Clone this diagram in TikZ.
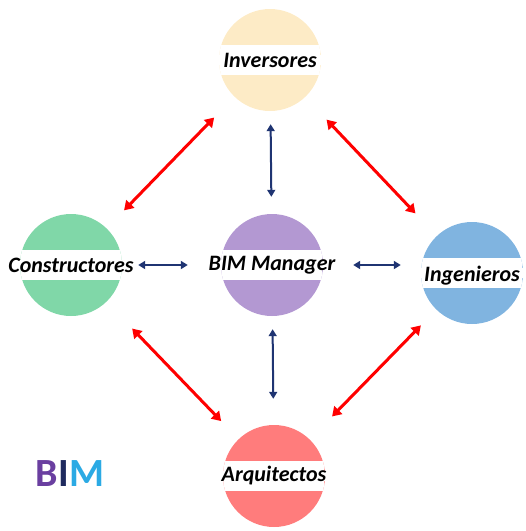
\documentclass[tikz,border=0pt]{standalone}
\usepackage{fontspec}
\setmainfont{Carlito}
\usetikzlibrary{arrows.meta}

\definecolor{invcol}{HTML}{FDEBC6}
\definecolor{concol}{HTML}{80D7A8}
\definecolor{bimcol}{HTML}{B398D2}
\definecolor{ingcol}{HTML}{80B4E0}
\definecolor{arqcol}{HTML}{FF7C7C}
\definecolor{navy}{HTML}{1F3472}
\definecolor{logoB}{HTML}{6A3FA0}
\definecolor{logoI}{HTML}{1F2A5E}
\definecolor{logoM}{HTML}{2BAAE4}

\begin{document}
\begin{tikzpicture}[
        x=1pt, y=-1pt,
        party/.style={circle, minimum size=102pt, inner sep=0pt,
          path picture={\fill[white]
            ([yshift=-15pt]path picture bounding box.west) rectangle
            ([yshift=15pt]path picture bounding box.east);}},
        tag/.style={font=\fontsize{22}{22}\selectfont\bfseries\itshape},
        link/.style={draw=red, line width=3pt,
          {Triangle[length=9pt,width=11pt]}-{Triangle[length=9pt,width=11pt]}},
        hub/.style={draw=navy, line width=2pt,
          {Triangle[length=7pt,width=8pt]}-{Triangle[length=7pt,width=8pt]}}
      ]
      \useasboundingbox (0,0) rectangle (526,531);

      % the five parties
      \node[party, fill=invcol] (inv) at (270,60) {};
      \node[party, fill=concol] (con) at (71,265) {};
      \node[party, fill=bimcol] (bim) at (272,265) {};
      \node[party, fill=ingcol] (ing) at (472,273) {};
      \node[party, fill=arqcol] (arq) at (274,476) {};

      \node[tag] (inv-t) at (inv) {Inversores};
      \node[tag] (con-t) at (con) {Constructores};
      \node[tag] (bim-t) at (bim) {BIM Manager};
      \node[tag] (ing-t) at ([yshift=-3pt]ing) {Ingenieros};
      \node[tag] (arq-t) at (arq) {Arquitectos};

      % outer ring
      \draw[link, shorten <=29pt, shorten >=25pt] (inv) -- (con);
      \draw[link, shorten <=31pt, shorten >=31pt] (inv) -- (ing);
      \draw[link, shorten <=37pt, shorten >=25pt] (con) -- (arq);
      \draw[link, shorten <=22pt, shorten >=32pt] (ing) -- (arq);

      % spokes from the manager
      \draw[hub, shorten <=13pt, shorten >=17pt] (inv) -- (bim);
      \draw[hub, shorten <=13pt, shorten >=26pt] (bim) -- (arq);
      \draw[hub, shorten <=16pt, shorten >=33pt] (con.east) -- (bim.west);
      \draw[hub, shorten <=30pt, shorten >=20pt] (bim.east) -- (ing.west |- bim.east);

      \node[font=\fontsize{40}{40}\selectfont\bfseries] (logo) at (70,474)
        {\textcolor{logoB}{B}\textcolor{logoI}{I}\textcolor{logoM}{M}};
\end{tikzpicture}
\end{document}
